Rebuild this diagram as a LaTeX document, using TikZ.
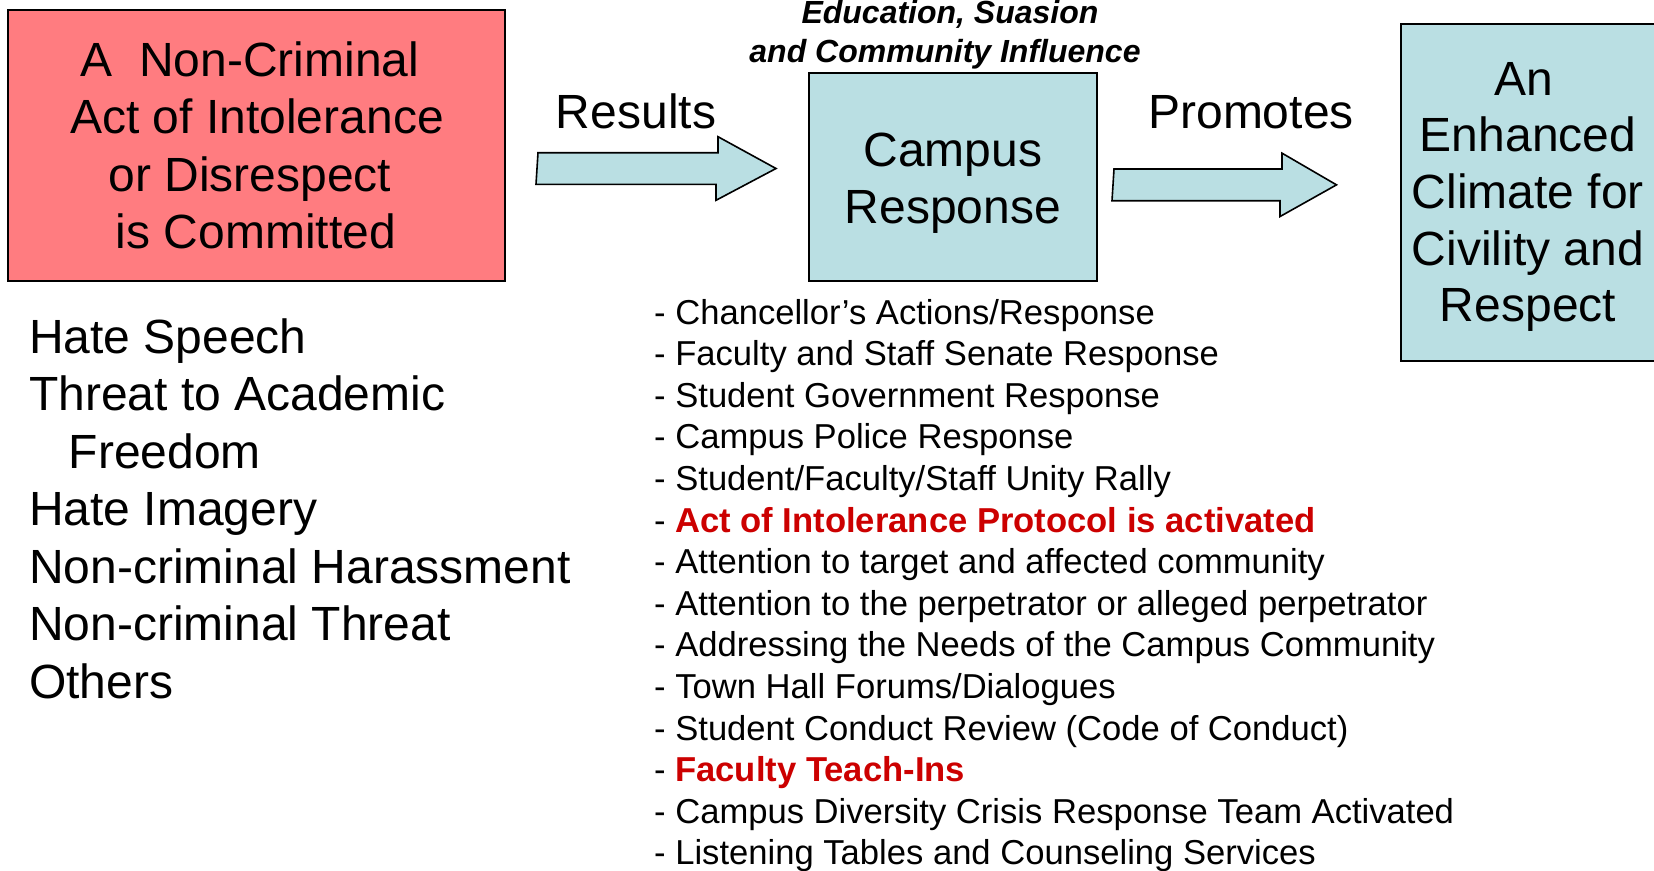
\documentclass[tikz,border=0pt]{standalone}
\usepackage{fontspec}
\setmainfont{Liberation Sans}
\usetikzlibrary{calc}
\definecolor{boxred}{RGB}{255,124,128}
\definecolor{boxblue}{RGB}{186,223,227}
\definecolor{hired}{RGB}{204,0,0}
\tikzset{
  bigtxt/.style={font=\fontsize{48}{57}\selectfont, inner sep=0pt, anchor=base},
  bigleft/.style={font=\fontsize{48}{57}\selectfont, inner sep=0pt, anchor=base west},
  listitem/.style={font=\fontsize{34.6}{41}\selectfont, inner sep=0pt, anchor=base west},
  edutxt/.style={font=\fontsize{32}{40}\selectfont\bfseries\itshape, inner sep=0pt, anchor=base},
  boxstyle/.style={draw=black, line width=2pt, inner sep=0pt},
  blockarrow/.style={draw=black, line width=1.6pt, fill=boxblue, line join=miter},
}
\begin{document}
\begin{tikzpicture}[x=1pt,y=-1pt]
\clip (0,0) rectangle (1654,870);
\fill[white] (0,0) rectangle (1654,870);

% boxes
\node[boxstyle, fill=boxred, minimum width=497pt, minimum height=271.5pt] (act) at (256.5,145.25) {};
\node[boxstyle, fill=boxblue, minimum width=288.6pt, minimum height=208pt] (campus) at (953,176.7) {};
\node[boxstyle, fill=boxblue, minimum width=264.3pt, minimum height=336.7pt] (climate) at (1532.85,192.65) {};

% box texts
\node[bigtxt] (act1) at (250,76) {A\ \ Non-Criminal};
\node[bigtxt] (act2) at (257,133.3) {Act of Intolerance};
\node[bigtxt] (act3) at (250,191.2) {or Disrespect};
\node[bigtxt] (act4) at (256,248.6) {is Committed};

\node[bigtxt] (cam1) at (953,166.7) {Campus};
\node[bigtxt] (cam2) at (953,223.3) {Response};

\node[bigtxt] (cl1) at (1524,95) {An};
\node[bigtxt] (cl2) at (1528,151.7) {Enhanced};
\node[bigtxt] (cl3) at (1528,208.4) {Climate for};
\node[bigtxt] (cl4) at (1528,265.1) {Civility and};
\node[bigtxt] (cl5) at (1528,321.8) {Respect};

\node[edutxt] (edu1) at (950,23.5) {Education, Suasion};
\node[edutxt] (edu2) at (945,62) {and Community Influence};

% block arrows
\coordinate (r1) at ($(act.east)+(32,23.25)$);
\coordinate (r1tip) at ($(campus.west)+(-31.7,-8.2)$);
\draw[blockarrow] (r1) ++(0,-15.8) -- ++(180,0) -- ++(0,-16) -- (r1tip)
  -- ++(-60,31.8) -- ++(0,-16) -- ++(-180,0) -- cycle;
\coordinate (r2) at ($(campus.east)+(15.7,8.15)$);
\coordinate (r2tip) at ($(climate.west)+(-63.2,-7.8)$);
\draw[blockarrow] (r2) ++(0,-15.85) -- ++(168,0) -- ++(0,-15.85) -- (r2tip)
  -- ++(-56.5,31.7) -- ++(0,-15.85) -- ++(-168,0) -- cycle;

\node[bigtxt] (results) at (636,128.3) {Results};
\node[bigtxt] (promotes) at (1251,128.3) {Promotes};

% left list
\node[bigleft] (l1) at (29,353.3) {Hate Speech};
\node[bigleft] (l2) at (29,410.8) {Threat to Academic};
\node[bigleft] (l3) at (68.5,468.3) {Freedom};
\node[bigleft] (l4) at (29,525.8) {Hate Imagery};
\node[bigleft] (l5) at (29,583.3) {Non-criminal Harassment};
\node[bigleft] (l6) at (29,640.8) {Non-criminal Threat};
\node[bigleft] (l7) at (29,698.3) {Others};

% right list
\node[listitem] (i1) at (654,324.0) {- Chancellor’s Actions/Response};
\node[listitem] (i2) at (654,365.6) {- Faculty and Staff Senate Response};
\node[listitem] (i3) at (654,407.2) {- Student Government Response};
\node[listitem] (i4) at (654,448.8) {- Campus Police Response};
\node[listitem] (i5) at (654,490.4) {- Student/Faculty/Staff Unity Rally};
\node[listitem] (i6) at (654,532.0) {- {\color{hired}\bfseries Act of Intolerance Protocol is activated}};
\node[listitem] (i7) at (654,573.6) {- Attention to target and affected community};
\node[listitem] (i8) at (654,615.2) {- Attention to the perpetrator or alleged perpetrator};
\node[listitem] (i9) at (654,656.8) {- Addressing the Needs of the Campus Community};
\node[listitem] (i10) at (654,698.4) {- Town Hall Forums/Dialogues};
\node[listitem] (i11) at (654,740.0) {- Student Conduct Review (Code of Conduct)};
\node[listitem] (i12) at (654,781.6) {- {\color{hired}\bfseries Faculty Teach-Ins}};
\node[listitem] (i13) at (654,823.2) {- Campus Diversity Crisis Response Team Activated};
\node[listitem] (i14) at (654,864.6) {- Listening Tables and Counseling Services};
\end{tikzpicture}
\end{document}
